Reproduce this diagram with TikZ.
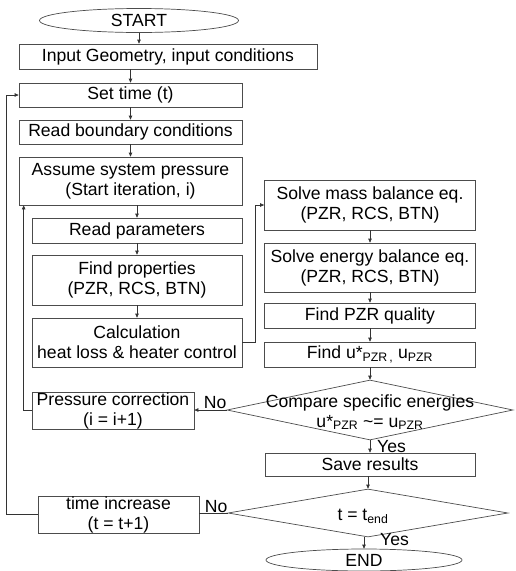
\documentclass[tikz,border=0pt]{standalone}
\usepackage{fontspec}
\setmainfont{Liberation Sans}
\usetikzlibrary{shapes.geometric,arrows.meta}

\begin{document}
\begin{tikzpicture}[
x=1pt, y=-1pt,
font=\fontsize{17.6}{20}\selectfont,
    box/.style = {rectangle, draw=black!70, line width=0.7pt,% process steps
                  align=center, inner sep=0pt,
                  minimum width=#1},
    box/.default = 223pt,
   term/.style = {ellipse, draw=black!70, line width=0.7pt,% START / END
                  inner sep=0pt, minimum height=24pt},
    dec/.style = {diamond, draw=black!70, line width=0.7pt,% decisions, text put on top
                  inner sep=0pt},
    lbl/.style = {inner sep=0pt, align=center},
      W/.style = {draw=black!80, line width=0.7pt},
      L/.style = {W, -{Triangle[length=4pt,width=3.5pt]}},
                    ]
\useasboundingbox (0,0) rectangle (516,571);
% left column
\node[term, minimum width=199pt] (start) at (139,20.5) {START};
\node[box=298pt, minimum height=25pt] (input) at (168,56.5) {Input Geometry, input conditions};
\node[box, minimum height=24pt] (settime) at (130.5,95) {Set time (t)};
\node[box, minimum height=24pt] (readbc) at (130.5,132) {Read boundary conditions};
\node[box, minimum height=48pt] (assume) at (130.5,181) {Assume system pressure\\(Start iteration, i)};
\node[box=210pt, minimum height=25pt] (readpar) at (137,230.5) {Read parameters};
\node[box=210pt, minimum height=50pt] (props) at (137,280) {Find properties\\(PZR, RCS, BTN)};
\node[box=210pt, minimum height=49pt] (calc) at (137,342.5) {Calculation\\heat loss \& heater control};
\node[box=162pt, minimum height=37pt] (press) at (113,410.5) {Pressure correction\\(i = i+1)};
\node[box=161pt, minimum height=37pt] (timeinc) at (118.5,514.5) {time increase\\(t = t+1)};
% right column
\node[box=211pt, minimum height=50pt] (mass) at (370,205) {Solve mass balance eq.\\(PZR, RCS, BTN)};
\node[box=211pt, minimum height=49pt] (energy) at (370,267.5) {Solve energy balance eq.\\(PZR, RCS, BTN)};
\node[box=211pt, minimum height=25pt] (quality) at (370,315.5) {Find PZR quality};
\node[box=211pt, minimum height=25pt] (findu) at (370,354.5) {Find u*\textsubscript{PZR\,,} u\textsubscript{PZR}};
\node[dec, minimum width=286pt, minimum height=60pt] (cmp) at (370,410) {};
\node[lbl] (cmptxt) at (370,412) {Compare specific energies\\u*\textsubscript{PZR} \textasciitilde= u\textsubscript{PZR}};
\node[box=210pt, minimum height=23pt] (save) at (370,464.5) {Save results};
\node[dec, minimum width=280pt, minimum height=48pt] (tend) at (368,513) {};
\node[lbl] (tendtxt) at (363,516) {t = t\textsubscript{end}};
\node[term, minimum width=196pt, minimum height=22pt] (stop) at (364,560) {END};

% straight flow
\draw[L] (start.south) -- (start.south |- input.north);
\foreach \a/\b in {input/settime, settime/readbc, readbc/assume, assume/readpar,
                   readpar/props, props/calc, mass/energy, energy/quality,
                   quality/findu, findu/cmp, cmp/save, save/tend, tend/stop}
    \draw[L] (\b.north |- \a.south) -- (\b.north);
\draw[L] (calc.east) -- ++(13,0) |- (mass.west);
% iteration loops
\draw[L] (cmp.west) node[lbl, anchor=south east, yshift=1pt] (no1) {No}
         -- (cmp.west -| press.east);
\draw[L] (press.west) -| ([xshift=5pt]assume.south west);
\draw[W] (tend.west) node[lbl, anchor=south east] (no2) {No}
         -- (tend.west -| timeinc.east);
\draw[L] (timeinc.west) -- ++(-31,0) |- (settime.west);
\node[lbl, anchor=north west] (yes1) at ([xshift=7pt]cmp.south) {Yes};
\node[lbl, anchor=north west] (yes2) at ([xshift=12pt,yshift=4pt]tend.south) {Yes};
\end{tikzpicture}
\end{document}
